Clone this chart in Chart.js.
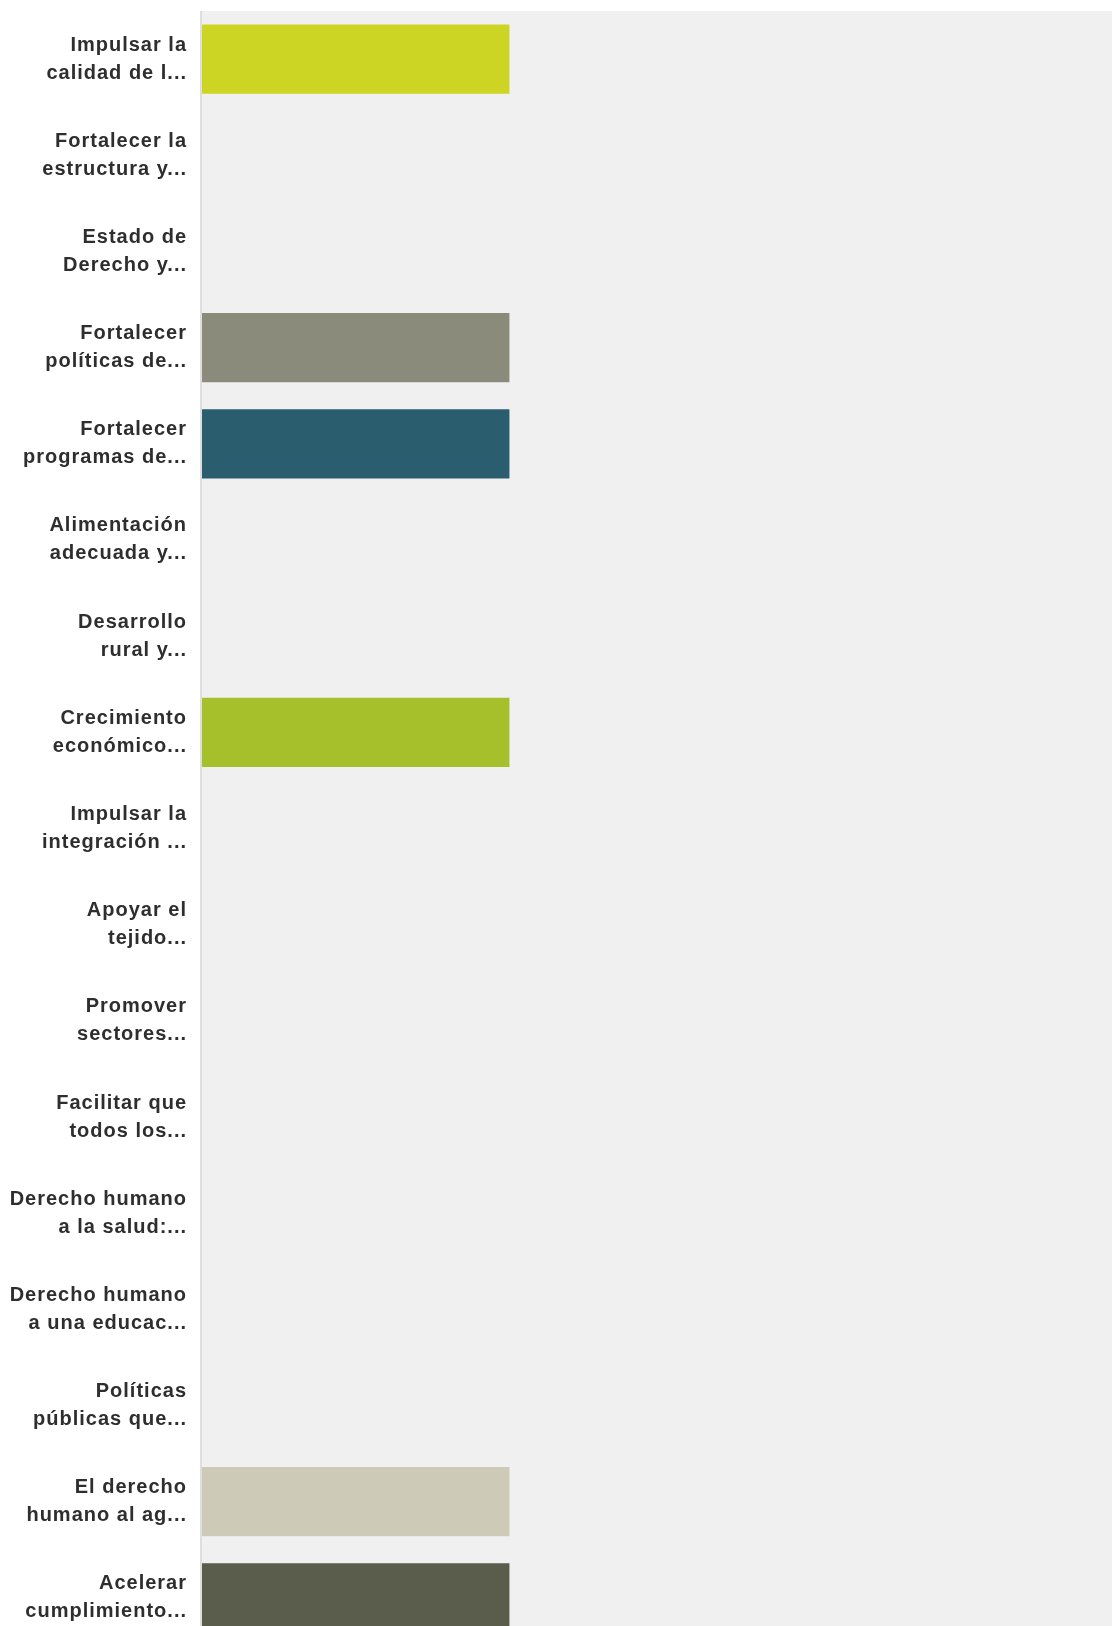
<!DOCTYPE html>
<html>
<head>
<meta charset="utf-8">
<script src="https://cdn.jsdelivr.net/npm/chart.js@4/dist/chart.umd.min.js"></script>
<style>
  html, body { margin: 0; padding: 0; background: #ffffff; overflow: hidden; }
  #wrap { position: relative; width: 1112px; height: 1660px; }
</style>
</head>
<body>
<div id="wrap"><canvas id="c"></canvas></div>
<script>
const categories = [
  ['Impulsar la', 'calidad de l...'],
  ['Fortalecer la', 'estructura y...'],
  ['Estado de', 'Derecho y...'],
  ['Fortalecer', 'políticas de...'],
  ['Fortalecer', 'programas de...'],
  ['Alimentación', 'adecuada y...'],
  ['Desarrollo', 'rural y...'],
  ['Crecimiento', 'económico...'],
  ['Impulsar la', 'integración ...'],
  ['Apoyar el', 'tejido...'],
  ['Promover', 'sectores...'],
  ['Facilitar que', 'todos los...'],
  ['Derecho humano', 'a la salud:...'],
  ['Derecho humano', 'a una educac...'],
  ['Políticas', 'públicas que...'],
  ['El derecho', 'humano al ag...'],
  ['Acelerar', 'cumplimiento...']
];
const values = [1, 0, 0, 1, 1, 0, 0, 1, 0, 0, 0, 0, 0, 0, 0, 1, 1];
const barColors = [
  '#cdd524', '#cccccc', '#cccccc', '#8a8b7b', '#2a5e6e', '#cccccc', '#cccccc',
  '#a6c02c', '#cccccc', '#cccccc', '#cccccc', '#cccccc', '#cccccc', '#cccccc',
  '#cccccc', '#cdcbb8', '#5b5d4c'
];
const xMin = 0;
const xMax = 2.96;

const plotBg = {
  id: 'plotBg',
  beforeDraw(chart) {
    const { ctx, chartArea: a } = chart;
    ctx.letterSpacing = '1px';
    ctx.save();
    ctx.fillStyle = '#f0f0f0';
    ctx.fillRect(a.left, a.top, chart.width - a.left, a.bottom - a.top);
    ctx.fillStyle = '#dedede';
    ctx.fillRect(a.left - 2, a.top, 2, a.bottom - a.top);
    ctx.restore();
  }
};

new Chart(document.getElementById('c'), {
  type: 'bar',
  data: {
    labels: categories,
    datasets: [{
      data: values,
      backgroundColor: barColors,
      borderWidth: 0,
      categoryPercentage: 1.0,
      barPercentage: 0.72
    }]
  },
  options: {
    indexAxis: 'y',
    responsive: true,
    maintainAspectRatio: false,
    animation: false,
    layout: { padding: { top: 11, bottom: 14, left: 0, right: 0 } },
    plugins: { legend: { display: false }, tooltip: { enabled: false } },
    scales: {
      x: {
        display: false,
        min: xMin,
        max: xMax
      },
      y: {
        afterFit(scale) {
          scale.width = 202;
          scale.paddingTop = 0;
          scale.paddingBottom = 0;
        },
        grid: { display: false, drawTicks: false },
        border: { display: false },
        ticks: {
          padding: 15,
          color: '#2e2e2e',
          font: { family: '"Liberation Sans", Arial, sans-serif', size: 20, weight: 'bold', lineHeight: 1.4 }
        }
      }
    }
  },
  plugins: [plotBg]
});
</script>
</body>
</html>
